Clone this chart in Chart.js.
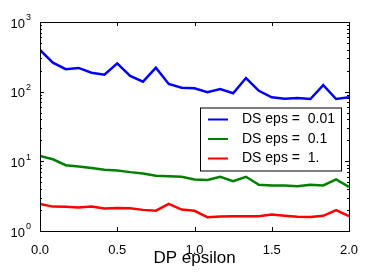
<!DOCTYPE html>
<html>
<head>
<meta charset="utf-8">
<script src="https://cdn.jsdelivr.net/npm/chart.js@4/dist/chart.umd.min.js"></script>
<style>
  html, body { margin: 0; background: #fff; }
</style>
</head>
<body>
<canvas id="chart" width="374" height="280"></canvas>
<script>
// DP epsilon values on the x axis
const dpEpsilon = [0, 0.0833, 0.1667, 0.25, 0.3333, 0.4167, 0.5, 0.5833, 0.6667, 0.75,
  0.8333, 0.9167, 1.0, 1.0833, 1.1667, 1.25, 1.3333, 1.4167, 1.5, 1.5833,
  1.6667, 1.75, 1.8333, 1.9167, 2.0];

const dsEps001 = [398, 261, 210, 219, 187, 175, 255, 168, 139, 221,
  129, 114, 112, 98, 109, 95, 157, 103, 83, 79,
  81, 78.5, 124, 78.5, 83];
const dsEps01 = [11.9, 10.7, 8.8, 8.4, 8.0, 7.6, 7.4, 7.0, 6.7, 6.2,
  6.1, 6.0, 5.5, 5.4, 6.0, 5.2, 6.0, 4.6, 4.5, 4.5,
  4.4, 4.6, 4.5, 5.5, 4.3];
const dsEps1 = [2.45, 2.24, 2.22, 2.17, 2.24, 2.10, 2.14, 2.12, 2.01, 1.96,
  2.45, 2.03, 1.95, 1.58, 1.62, 1.63, 1.63, 1.63, 1.72, 1.66,
  1.60, 1.59, 1.65, 2.0, 1.63];

const seriesLabels = ["DS eps =  0.01", "DS eps =  0.1", "DS eps =  1."];
const seriesColors = ["#0000ff", "#008000", "#ff0000"];
const xTicks = [0, 0.5, 1.0, 1.5, 2.0];
const yDecades = [0, 1, 2, 3];

const FONT = "'Liberation Sans', Arial, sans-serif";

function toPoints(values) {
  return values.map((v, i) => ({ x: dpEpsilon[i], y: v }));
}

// ticks inward, border, y labels with superscripts and the legend box
const mplPlugin = {
  id: "mplStyle",
  afterDraw(chart) {
    const ctx = chart.ctx;
    const area = chart.chartArea;
    const xs = chart.scales.x;
    const ys = chart.scales.y;
    ctx.save();
    ctx.strokeStyle = "#000";
    ctx.lineWidth = 1;

    // x ticks, bottom and top
    xTicks.forEach((t) => {
      const px = Math.round(xs.getPixelForValue(t)) + 0.5;
      ctx.beginPath();
      ctx.moveTo(px, area.bottom);
      ctx.lineTo(px, area.bottom - 4);
      ctx.moveTo(px, area.top);
      ctx.lineTo(px, area.top + 4);
      ctx.stroke();
    });

    // y ticks, major and minor, left and right
    for (let d = 0; d < 3; d++) {
      for (let m = 1; m <= 9; m++) {
        const py = Math.round(ys.getPixelForValue(m * Math.pow(10, d))) + 0.5;
        const len = m === 1 ? 4 : 2;
        ctx.beginPath();
        ctx.moveTo(area.left, py);
        ctx.lineTo(area.left + len, py);
        ctx.moveTo(area.right, py);
        ctx.lineTo(area.right - len, py);
        ctx.stroke();
      }
    }

    // frame
    ctx.strokeRect(Math.round(area.left) + 0.5, Math.round(area.top) + 0.5,
      Math.round(area.right - area.left), Math.round(area.bottom - area.top));

    // y tick labels: 10^n
    ctx.fillStyle = "#000";
    ctx.textBaseline = "middle";
    yDecades.forEach((d) => {
      const py = ys.getPixelForValue(Math.pow(10, d));
      ctx.font = "13px " + FONT;
      ctx.textAlign = "right";
      const supW = 6;
      ctx.fillText("10", area.left - 9 - supW, py + 2);
      ctx.font = "9px " + FONT;
      ctx.textAlign = "left";
      ctx.fillText(String(d), area.left - 9 - supW + 1, py - 4);
    });

    // legend
    const lx = 200, ly = 107.5, lw = 141, lh = 63;
    ctx.fillStyle = "#fff";
    ctx.fillRect(lx, ly, lw, lh);
    ctx.strokeStyle = "#000";
    ctx.strokeRect(lx + 0.5, ly + 0.5, lw, lh);
    ctx.font = "14px " + FONT;
    ctx.textAlign = "left";
    ctx.textBaseline = "middle";
    seriesLabels.forEach((lab, i) => {
      const yy = ly + 12 + i * 19.5;
      ctx.strokeStyle = seriesColors[i];
      ctx.lineWidth = 2;
      ctx.beginPath();
      ctx.moveTo(lx + 8, yy);
      ctx.lineTo(lx + 28, yy);
      ctx.stroke();
      ctx.fillStyle = "#000";
      ctx.fillText(lab, lx + 42, yy);
    });
    ctx.restore();
  }
};

new Chart(document.getElementById("chart"), {
  type: "line",
  data: {
    datasets: [dsEps001, dsEps01, dsEps1].map((vals, i) => ({
      label: seriesLabels[i],
      data: toPoints(vals),
      borderColor: seriesColors[i],
      borderWidth: 2.5,
      pointRadius: 0,
      tension: 0,
      fill: false
    }))
  },
  options: {
    responsive: false,
    animation: false,
    devicePixelRatio: 1,
    layout: { padding: { top: 22, right: 25, left: 0, bottom: 0 } },
    plugins: { legend: { display: false }, tooltip: { enabled: false } },
    scales: {
      x: {
        type: "linear",
        min: 0,
        max: 2,
        grid: { display: false },
        border: { display: false },
        afterBuildTicks: (scale) => { scale.ticks = xTicks.map((v) => ({ value: v })); },
        afterFit: (scale) => { scale.height = 49; },
        ticks: {
          color: "#000",
          padding: 4,
          maxRotation: 0,
          font: { family: FONT, size: 13 },
          callback: (v) => Number(v).toFixed(1)
        },
        title: {
          display: true,
          text: "DP epsilon",
          color: "#000",
          font: { family: FONT, size: 17 },
          padding: { top: 2, bottom: 11 }
        }
      },
      y: {
        type: "logarithmic",
        min: 1,
        max: 1000,
        grid: { display: false },
        border: { display: false },
        afterFit: (scale) => { scale.width = 40; },
        ticks: { callback: () => "" }
      }
    }
  },
  plugins: [mplPlugin]
});
</script>
</body>
</html>
